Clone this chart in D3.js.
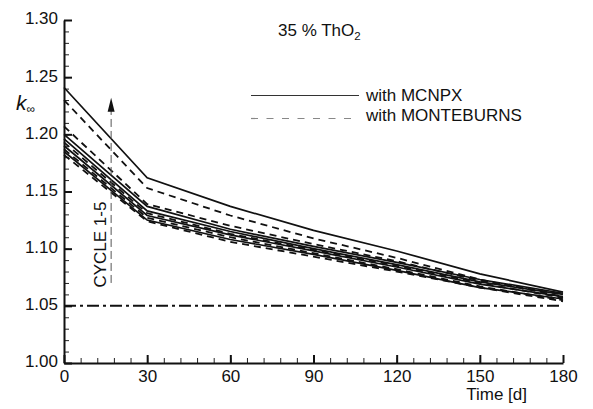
<!DOCTYPE html>
<html>
<head>
<meta charset="utf-8">
<script src="https://cdn.jsdelivr.net/npm/d3@7"></script>
<style>
  body { margin: 0; background: #fff; }
  svg { display: block; }
  text { font-family: "Liberation Sans", Arial, sans-serif; fill: #111; }
</style>
</head>
<body>
<div id="chart"></div>
<script>
// time steps [d]
const days = [0, 30, 60, 90, 120, 150, 180];

// k-inf, MCNPX runs (solid)
const mcnpx1 = [1.241, 1.162, 1.137, 1.116, 1.098, 1.078, 1.062];
const mcnpx2 = [1.200, 1.137, 1.117, 1.102, 1.088, 1.073, 1.061];
const mcnpx3 = [1.196, 1.133, 1.115, 1.100, 1.086, 1.071, 1.060];
const mcnpx4 = [1.190, 1.129, 1.112, 1.098, 1.084, 1.069, 1.058];
const mcnpx5 = [1.185, 1.125, 1.108, 1.095, 1.081, 1.066, 1.056];

// k-inf, MONTEBURNS runs (dashed)
const monte1 = [1.230, 1.153, 1.129, 1.109, 1.092, 1.073, 1.058];
const monte2 = [1.207, 1.139, 1.120, 1.104, 1.089, 1.072, 1.060];
const monte3 = [1.193, 1.131, 1.113, 1.099, 1.085, 1.070, 1.057];
const monte4 = [1.187, 1.127, 1.110, 1.096, 1.082, 1.067, 1.055];
const monte5 = [1.182, 1.124, 1.106, 1.093, 1.080, 1.066, 1.054];

const xTicks = [0, 30, 60, 90, 120, 150, 180];
const yTicks = [1.00, 1.05, 1.10, 1.15, 1.20, 1.25, 1.30];
const limitValue = 1.05;
const arrowDay = 17, arrowFrom = 1.070, arrowTo = 1.232;

(function(){
    const W = 593, H = 409;
    const x = d3.scaleLinear().domain([0, 180]).range([64, 563]);
    const y = d3.scaleLinear().domain([1.0, 1.3]).range([363, 20]);

    const svg = d3.select('#chart').append('svg')
        .attr('width', W).attr('height', H);

    // minor ticks first so the main axis sits on top
    svg.append('g')
        .attr('transform', 'translate(0,' + y(1.0) + ')')
        .call(d3.axisBottom(x).tickValues(d3.range(0, 181, 6)).tickSize(-5).tickFormat(''))
        .call(g => g.select('.domain').remove())
        .call(g => g.selectAll('line').attr('stroke', '#222').attr('stroke-width', 1));
    svg.append('g')
        .attr('transform', 'translate(' + x(0) + ',0)')
        .call(d3.axisLeft(y).tickValues(d3.range(100, 131, 1).map(d => d / 100)).tickSize(-5).tickFormat(''))
        .call(g => g.select('.domain').remove())
        .call(g => g.selectAll('line').attr('stroke', '#222').attr('stroke-width', 1));

    const xAxis = svg.append('g')
        .attr('transform', 'translate(0,' + y(1.0) + ')')
        .call(d3.axisBottom(x).tickValues(xTicks).tickSize(-8).tickSizeOuter(0).tickPadding(7));
    const yAxis = svg.append('g')
        .attr('transform', 'translate(' + x(0) + ',0)')
        .call(d3.axisLeft(y).tickValues(yTicks).tickSize(-8).tickSizeOuter(0).tickPadding(6).tickFormat(d3.format('.2f')));

    [xAxis, yAxis].forEach(g => {
        g.select('.domain').attr('stroke', '#111').attr('stroke-width', 2);
        g.selectAll('line').attr('stroke', '#111').attr('stroke-width', 2);
        g.selectAll('text').attr('font-size', 17).attr('font-family', null).attr('fill', '#111');
    });
    yAxis.selectAll('text').attr('dy', '0.23em');

    // 1.05 limit line
    svg.append('line')
        .attr('x1', x(0)).attr('x2', x(180))
        .attr('y1', y(limitValue)).attr('y2', y(limitValue))
        .attr('stroke', '#111').attr('stroke-width', 2)
        .attr('stroke-dasharray', '12,4,3,4');

    const line = d3.line().x(d => x(d.t)).y(d => y(d.v));
    const toPts = vals => vals.map((v, i) => ({t: days[i], v: v}));

    [mcnpx1, mcnpx2, mcnpx3, mcnpx4, mcnpx5].forEach(s => {
        svg.append('path').datum(toPts(s))
            .attr('fill', 'none').attr('stroke', '#111').attr('stroke-width', 1.7)
            .attr('d', line);
    });
    [monte1, monte2, monte3, monte4, monte5].forEach(s => {
        svg.append('path').datum(toPts(s))
            .attr('fill', 'none').attr('stroke', '#111').attr('stroke-width', 1.8)
            .attr('stroke-dasharray', '7,5')
            .attr('d', line);
    });

    // cycle arrow
    svg.append('line')
        .attr('x1', x(arrowDay)).attr('x2', x(arrowDay))
        .attr('y1', y(arrowFrom)).attr('y2', y(arrowTo) + 12)
        .attr('stroke', '#555').attr('stroke-width', 1)
        .attr('stroke-dasharray', '8,4');
    const ax = x(arrowDay), ay = y(arrowTo);
    svg.append('path')
        .attr('d', 'M' + ax + ',' + ay + 'L' + (ax - 3.5) + ',' + (ay + 14) + 'L' + (ax + 3.5) + ',' + (ay + 14) + 'Z')
        .attr('fill', '#111');
    svg.append('text')
        .attr('transform', 'translate(' + (ax - 5) + ',' + y(arrowFrom - 0.004) + ') rotate(-90)')
        .attr('font-size', 17)
        .text('CYCLE 1-5');

    // title
    const title = svg.append('text').attr('x', 278).attr('y', 36).attr('font-size', 17);
    title.append('tspan').text('35 % ThO');
    title.append('tspan').attr('font-size', 11.5).attr('dy', 4).text('2');

    // legend
    svg.append('line').attr('x1', 251).attr('x2', 359).attr('y1', 95.5).attr('y2', 95.5)
        .attr('stroke', '#333').attr('stroke-width', 1);
    svg.append('text').attr('x', 366).attr('y', 101).attr('font-size', 17).text('with MCNPX');
    svg.append('line').attr('x1', 251).attr('x2', 359).attr('y1', 118.5).attr('y2', 118.5)
        .attr('stroke', '#888').attr('stroke-width', 1.2).attr('stroke-dasharray', '7,8.5');
    svg.append('text').attr('x', 366).attr('y', 121).attr('font-size', 17).text('with MONTEBURNS');

    // axis titles
    const kl = svg.append('text').attr('x', 16).attr('y', 110);
    kl.append('tspan').attr('font-style', 'italic').attr('font-size', 21).text('k');
    kl.append('tspan').attr('font-size', 12).attr('dy', 3).text('∞');
    svg.append('text').attr('x', 527).attr('y', 400).attr('text-anchor', 'end')
        .attr('font-size', 17).text('Time [d]');
}());
</script>
</body>
</html>
